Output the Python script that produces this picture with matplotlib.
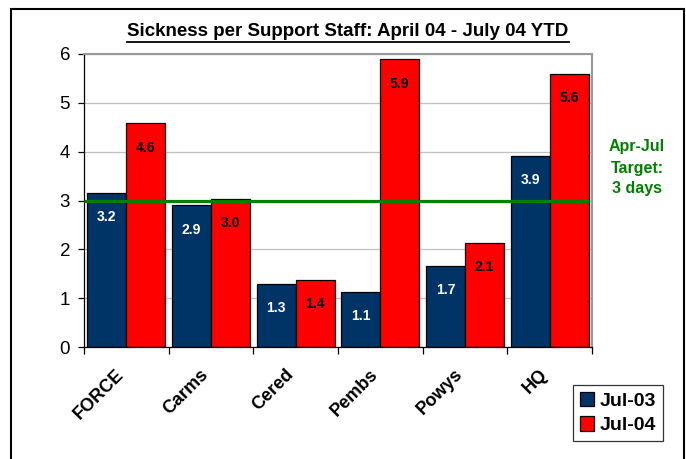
import matplotlib
matplotlib.use("Agg")
import matplotlib.pyplot as plt
import matplotlib.transforms as mtransforms
import numpy as np
from matplotlib.patches import Rectangle

plt.rcParams["font.family"] = ["Liberation Sans", "DejaVu Sans"]

# ── data ──
categories = ["FORCE", "Carms", "Cered", "Pembs", "Powys", "HQ"]
jul03 = [3.16, 2.90, 1.29, 1.13, 1.66, 3.92]
jul04 = [4.58, 3.03, 1.37, 5.89, 2.13, 5.60]
series_names = ["Jul-03", "Jul-04"]
target = 3.0
target_text = "Apr-Jul\nTarget:\n3 days"
title = "Sickness per Support Staff: April 04 - July 04 YTD"

NAVY = "#003366"
RED = "#FF0000"
GREEN = "#008000"

W, H = 686, 459
fig = plt.figure(figsize=(W / 100, H / 100), dpi=100)
ax = fig.add_axes([84 / W, 1 - 347 / H, (592 - 84) / W, (347 - 54) / H])

x = np.arange(len(categories))
bw = 0.46
b1 = ax.bar(x - bw / 2, jul03, bw, color=NAVY, edgecolor="black",
            linewidth=0.9, label=series_names[0], zorder=2)
b2 = ax.bar(x + bw / 2, jul04, bw, color=RED, edgecolor="black",
            linewidth=0.9, label=series_names[1], zorder=2)

# data labels, inside end
for bars, vals, col in ((b1, jul03, "white"), (b2, jul04, "black")):
    for bar, v in zip(bars, vals):
        ax.annotate(f"{v:.1f}", (bar.get_x() + bar.get_width() / 2, v),
                    xytext=(0, -17.5), textcoords="offset points",
                    ha="center", va="center", fontsize=10,
                    fontweight="bold", color=col, zorder=4)

# target line
ax.plot([-0.5, 5.46], [target, target], color=GREEN, linewidth=2.3,
        zorder=3, solid_capstyle="butt")
fig.text(637 / W, 1 - 168 / H, target_text, color=GREEN, fontsize=11.5,
         fontweight="bold", ha="center", va="center", linespacing=1.5)

ax.set_xlim(-0.5, len(categories) - 0.5)
ax.set_ylim(0, 6)
ax.set_yticks(range(0, 7))
ax.tick_params(axis="y", labelsize=13.5, length=4, width=0.9, pad=6)
ax.set_xticks(np.arange(-0.5, len(categories)), minor=False)
ax.set_xticklabels([])
ax.set_xticks(x, minor=True)
ax.set_xticklabels(categories, minor=True, rotation=45, ha="right",
                   rotation_mode="anchor", fontsize=13, fontweight="bold")
ax.tick_params(axis="x", which="major", length=5, width=0.9)
ax.tick_params(axis="x", which="minor", length=0, pad=10)
shift = mtransforms.ScaledTranslation(-0.11, -0.05, fig.dpi_scale_trans)
for lbl in ax.get_xticklabels(minor=True):
    lbl.set_transform(lbl.get_transform() + shift)
ax.grid(axis="y", color="#c0c0c0", linewidth=0.9, zorder=0)
ax.set_axisbelow(True)
for s in ("top", "right"):
    ax.spines[s].set_color("#999999")
    ax.spines[s].set_linewidth(1.5)
for s in ("left", "bottom"):
    ax.spines[s].set_color("black")
    ax.spines[s].set_linewidth(0.9)

# title, underlined
t = fig.text(348 / W, 1 - 32 / H, title, fontsize=13.5, fontweight="bold",
             ha="center", va="center")
fig.canvas.draw()
bb = t.get_window_extent()
fig.add_artist(plt.Line2D([bb.x0 / W, bb.x1 / W],
                          [(bb.y0 - 1) / H, (bb.y0 - 1) / H],
                          color="black", linewidth=1.3,
                          transform=fig.transFigure))

leg = fig.legend(handles=[b1, b2], labels=series_names, loc="center",
                 bbox_to_anchor=(618 / W, 1 - 413 / H),
                 prop={"weight": "bold", "size": 14}, frameon=True,
                 fancybox=False, handlelength=0.75, handleheight=0.75,
                 handletextpad=0.3, borderpad=0.35, labelspacing=0.35,
                 borderaxespad=0)
leg.get_frame().set_edgecolor("black")
leg.get_frame().set_linewidth(0.9)

# outer chart frame
fig.add_artist(Rectangle((11 / W, -0.05), (684 - 11) / W, 1.05 - 9 / H,
                         transform=fig.transFigure, fill=False,
                         edgecolor="black", linewidth=1.5))

fig.savefig("out.png", dpi=100)
